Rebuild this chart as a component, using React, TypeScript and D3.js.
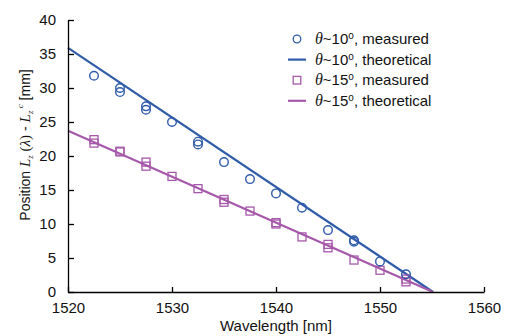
import React, { useEffect, useRef } from "react";
import * as d3 from "d3";

const width = 510;
const height = 336;
const margin = { top: 20, right: 26, bottom: 44, left: 68 };

const xTicks = [1520, 1530, 1540, 1550, 1560];
const yTicks = [0, 5, 10, 15, 20, 25, 30, 35, 40];

// measured points (two runs at some wavelengths)
const wl10 = [1522.5, 1525, 1525, 1527.5, 1527.5, 1530, 1532.5, 1532.5, 1535, 1537.5, 1540, 1542.5, 1545, 1547.5, 1547.5, 1550, 1552.5];
const pos10 = [31.8, 30.0, 29.4, 27.3, 26.8, 25.0, 22.1, 21.7, 19.1, 16.6, 14.5, 12.4, 9.1, 7.6, 7.4, 4.5, 2.6];

const wl15 = [1522.5, 1522.5, 1525, 1525, 1527.5, 1527.5, 1530, 1532.5, 1535, 1535, 1537.5, 1540, 1540, 1542.5, 1545, 1545, 1547.5, 1550, 1552.5, 1552.5];
const pos15 = [22.4, 21.9, 20.7, 20.6, 19.1, 18.5, 17.0, 15.2, 13.6, 13.2, 11.9, 10.2, 10.0, 8.1, 7.0, 6.5, 4.7, 3.2, 1.9, 1.5];

// theoretical lines
const theoWl = [1520, 1555.1];
const theo10 = [35.9, 0];
const theo15 = [23.7, 0];

const blue = "#2f5ba9";
const purple = "#a658aa";

const App = () => {
  const ref = useRef<SVGSVGElement>(null);

  useEffect(() => {
    const svg = d3.select(ref.current);
    svg.selectAll("*").remove();

    const x = d3.scaleLinear().domain([1520, 1560]).range([margin.left, width - margin.right]);
    const y = d3.scaleLinear().domain([0, 40]).range([height - margin.bottom, margin.top]);

    const g = svg.append("g");

    // theoretical lines
    const line = d3
      .line<[number, number]>()
      .x((d) => x(d[0]))
      .y((d) => y(d[1]));

    [
      { v: theo10, c: blue },
      { v: theo15, c: purple },
    ].forEach((s) => {
      g.append("path")
        .datum(theoWl.map((w, i) => [w, s.v[i]] as [number, number]))
        .attr("d", line)
        .attr("fill", "none")
        .attr("stroke", s.c)
        .attr("stroke-width", 2.2);
    });

    // squares
    g.selectAll(".sq")
      .data(wl15.map((w, i) => [w, pos15[i]]))
      .join("rect")
      .attr("x", (d) => x(d[0]) - 4)
      .attr("y", (d) => y(d[1]) - 4)
      .attr("width", 8)
      .attr("height", 8)
      .attr("fill", "none")
      .attr("stroke", purple)
      .attr("stroke-width", 1.3);

    // circles
    g.selectAll(".ci")
      .data(wl10.map((w, i) => [w, pos10[i]]))
      .join("circle")
      .attr("cx", (d) => x(d[0]))
      .attr("cy", (d) => y(d[1]))
      .attr("r", 4.3)
      .attr("fill", "none")
      .attr("stroke", blue)
      .attr("stroke-width", 1.4);

    // axes
    const xAxis = svg
      .append("g")
      .attr("transform", `translate(0,${height - margin.bottom})`)
      .call(d3.axisBottom(x).tickValues(xTicks).tickSizeInner(-5).tickSizeOuter(0).tickPadding(10).tickFormat(d3.format("d")));
    const yAxis = svg
      .append("g")
      .attr("transform", `translate(${margin.left},0)`)
      .call(d3.axisLeft(y).tickValues(yTicks).tickSizeInner(-6).tickSizeOuter(0).tickPadding(12));

    [xAxis, yAxis].forEach((a) => {
      a.selectAll("path").attr("stroke", "#000").attr("stroke-width", 1.3);
      a.selectAll("line").attr("stroke", "#000").attr("stroke-width", 1.3);
      a.selectAll("text")
        .attr("font-family", "Liberation Sans, Arial, sans-serif")
        .attr("font-size", 15)
        .attr("fill", "#111");
    });

    // axis titles
    svg
      .append("text")
      .attr("x", x(1540))
      .attr("y", 331)
      .attr("text-anchor", "middle")
      .attr("font-family", "Liberation Sans, Arial, sans-serif")
      .attr("font-size", 15)
      .attr("fill", "#111")
      .text("Wavelength [nm]");

    const serif = "Liberation Serif, serif";
    const yt = svg
      .append("text")
      .attr("transform", `translate(30,145) rotate(-90)`)
      .attr("text-anchor", "middle")
      .attr("font-family", "Liberation Sans, Arial, sans-serif")
      .attr("font-size", 14)
      .attr("fill", "#111");
    yt.append("tspan").text("Position ");
    yt.append("tspan").attr("font-family", serif).attr("font-style", "italic").attr("font-size", 15).text("L");
    yt.append("tspan").attr("font-family", serif).attr("font-style", "italic").attr("font-size", 9).attr("dy", 3).text("z");
    yt.append("tspan").attr("font-family", serif).attr("font-size", 15).attr("dy", -3).text(" (");
    yt.append("tspan").attr("font-family", serif).attr("font-style", "italic").attr("font-size", 15).text("λ");
    yt.append("tspan").attr("font-family", serif).attr("font-size", 15).text(")");
    yt.append("tspan").text(" - ");
    yt.append("tspan").attr("font-family", serif).attr("font-style", "italic").attr("font-size", 15).text("L");
    yt.append("tspan").attr("font-family", serif).attr("font-style", "italic").attr("font-size", 9).attr("dy", 3).text("z");
    yt.append("tspan").attr("font-family", serif).attr("font-style", "italic").attr("font-size", 9).attr("dy", -10).text(" c");
    yt.append("tspan").attr("dy", 7).text(" [mm]");

    // legend
    const legend = [
      { deg: "10", kind: "measured", mark: "circle", c: blue },
      { deg: "10", kind: "theoretical", mark: "line", c: blue },
      { deg: "15", kind: "measured", mark: "square", c: purple },
      { deg: "15", kind: "theoretical", mark: "line", c: purple },
    ];
    const lg = svg.append("g").attr("transform", "translate(297,39)");
    legend.forEach((l, i) => {
      const row = lg.append("g").attr("transform", `translate(0,${i * 20.6})`);
      if (l.mark === "circle") {
        row.append("circle").attr("r", 3.8).attr("fill", "none").attr("stroke", l.c).attr("stroke-width", 1.3);
      } else if (l.mark === "square") {
        row.append("rect").attr("x", -3.8).attr("y", -3.8).attr("width", 7.6).attr("height", 7.6).attr("fill", "none").attr("stroke", l.c).attr("stroke-width", 1.3);
      } else {
        row.append("line").attr("x1", -9).attr("x2", 9).attr("stroke", l.c).attr("stroke-width", 2.2);
      }
      const t = row
        .append("text")
        .attr("x", 18)
        .attr("y", 5)
        .attr("font-family", "Liberation Sans, Arial, sans-serif")
        .attr("font-size", 15)
        .attr("fill", "#111");
      t.append("tspan").attr("font-family", serif).attr("font-style", "italic").attr("font-size", 16).text("θ");
      t.append("tspan").text(`~${l.deg}`);
      t.append("tspan").attr("font-size", 10).attr("dy", -5).text("o");
      t.append("tspan").attr("dy", 5).text(`, ${l.kind}`);
    });
  }, []);

  return (
    <svg
      ref={ref}
      width={width}
      height={height}
      style={{ position: "absolute", left: 0, top: 0, background: "#fff" }}
    />
  );
};

export default App;
